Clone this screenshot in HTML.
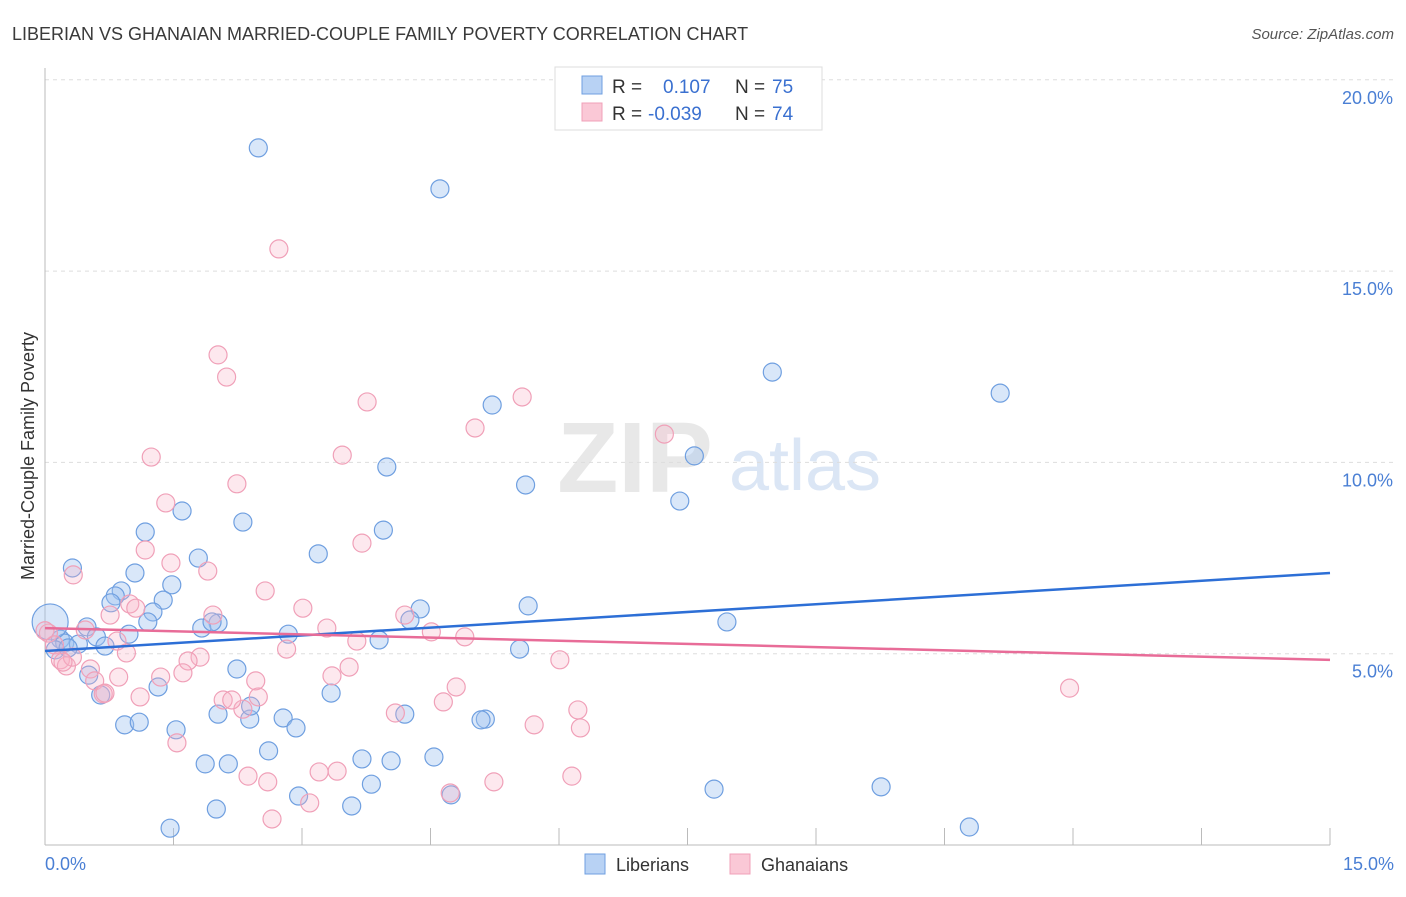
<!DOCTYPE html>
<html><head><meta charset="utf-8"><style>
body{margin:0;background:#fff;font-family:"Liberation Sans",sans-serif;}
svg text{font-family:"Liberation Sans",sans-serif;}
</style></head><body>
<svg id="chart" width="1406" height="892" xmlns="http://www.w3.org/2000/svg">
<text x="12" y="40" font-size="18" fill="#3a3a3a">LIBERIAN VS GHANAIAN MARRIED-COUPLE FAMILY POVERTY CORRELATION CHART</text>
<text x="1394" y="39" font-size="15" fill="#555" text-anchor="end" font-style="italic">Source: ZipAtlas.com</text>
<g><text x="635" y="492" font-size="100" fill="#e8e8e8" text-anchor="middle" font-family="Liberation Serif" font-weight="bold">ZIP</text><text x="805" y="490" font-size="72" fill="#dbe6f5" text-anchor="middle">atlas</text></g>
<g id="grid"></g><g id="axes"></g><g id="pts"></g><g id="trend"></g>
<text transform="translate(34,456) rotate(-90)" font-size="18" fill="#333" text-anchor="middle">Married-Couple Family Poverty</text>
<text x="45" y="870" font-size="18" fill="#4a7fd4">0.0%</text>
<text x="1394" y="870" font-size="18" fill="#4a7fd4" text-anchor="end">15.0%</text>
<g>
<rect x="555" y="67" width="267" height="63" fill="#fff" stroke="#ddd"/>
<rect x="582" y="76" width="20" height="18" fill="#b8d2f4" stroke="#6f9fe0"/>
<rect x="582" y="103" width="20" height="18" fill="#fac8d6" stroke="#f0a0b8"/>
<text x="612" y="93" font-size="19" fill="#333">R = </text><text x="663" y="93" font-size="19" fill="#3a70d0">0.107</text>
<text x="735" y="93" font-size="19" fill="#333">N = </text><text x="772" y="93" font-size="19" fill="#3a70d0">75</text>
<text x="612" y="120" font-size="19" fill="#333">R = </text><text x="648" y="120" font-size="19" fill="#3a70d0">-0.039</text>
<text x="735" y="120" font-size="19" fill="#333">N = </text><text x="772" y="120" font-size="19" fill="#3a70d0">74</text>
</g>
<g><rect x="585" y="854" width="20" height="20" fill="#b8d2f4" stroke="#6f9fe0"/><text x="616" y="871" font-size="18" fill="#333">Liberians</text></g>
<g><rect x="730" y="854" width="20" height="20" fill="#fac8d6" stroke="#f0a0b8"/><text x="761" y="871" font-size="18" fill="#333">Ghanaians</text></g>
</svg>
<script>
const yTicks=[5,10,15,20];
const yTickLabels=["5.0%","10.0%","15.0%","20.0%"];
const xTicks=[1.5,3,4.5,6,7.5,9,10.5,12,13.5,15];
const libX=[2.49,4.61,8.49,11.15,5.22,3.99,7.58,5.61,7.41,1.60,2.31,3.95,1.17,3.19,1.79,0.32,1.05,1.48,0.89,0.82,0.77,1.38,1.26,4.38,5.64,1.20,7.96,4.26,2.02,1.83,0.49,0.98,0.60,2.84,3.90,0.18,0.23,0.39,0.70,0.06,0.12,5.54,2.24,0.51,1.32,0.65,3.34,2.02,2.39,4.20,5.14,5.09,0.93,1.10,1.53,2.78,2.93,2.61,3.70,4.04,4.54,1.87,2.14,3.81,2.96,3.58,2.00,1.46,7.81,9.76,10.79,4.74,2.40,1.95,0.27];
const libY=[18.22,17.15,12.36,11.81,11.50,9.88,10.17,9.41,8.99,8.73,8.44,8.23,8.18,7.61,7.50,7.24,7.11,6.80,6.64,6.51,6.33,6.40,6.09,6.17,6.25,5.83,5.83,5.88,5.80,5.67,5.70,5.51,5.44,5.51,5.36,5.38,5.28,5.25,5.20,5.83,5.10,5.12,4.60,4.44,4.13,3.92,3.97,3.42,3.29,3.42,3.29,3.27,3.14,3.21,3.01,3.32,3.06,2.46,2.25,2.20,2.30,2.12,2.12,1.59,1.28,1.02,0.94,0.44,1.46,1.52,0.47,1.31,3.63,5.83,5.15];
const ghaX=[2.73,2.02,2.12,3.76,5.57,5.02,7.23,1.24,3.47,2.24,1.41,3.70,1.17,1.47,0.33,1.90,2.57,0.99,1.06,0.76,3.01,1.96,4.20,4.51,4.90,3.29,0.47,0.84,2.82,3.64,0.04,0.11,0.18,0.25,0.32,0.95,1.81,1.67,3.55,6.01,0.53,0.21,1.35,1.61,0.86,2.46,0.58,0.68,3.35,4.80,11.96,2.08,2.49,1.11,2.31,4.09,4.65,5.71,6.22,6.25,1.54,3.20,3.41,2.37,5.24,6.15,2.60,3.09,4.73,2.65,0.70,2.18,0.00];
const ghaY=[15.58,12.81,12.23,11.58,11.71,10.90,10.74,10.14,10.19,9.44,8.94,7.89,7.71,7.37,7.06,7.16,6.64,6.30,6.19,6.01,6.19,6.01,6.01,5.57,5.44,5.67,5.62,5.33,5.12,5.33,5.54,5.23,4.84,4.68,4.91,5.02,4.91,4.81,4.65,4.84,4.60,4.78,4.39,4.50,4.39,4.29,4.29,3.95,4.42,4.13,4.10,3.79,3.87,3.87,3.55,3.45,3.74,3.14,3.53,3.06,2.67,1.91,1.93,1.80,1.65,1.80,1.65,1.10,1.36,0.68,3.97,3.79,5.60];
const libTrend=[5.07,7.11];
const ghaTrend=[5.67,4.84];
const NS="http://www.w3.org/2000/svg";
const X=v=>45+v/15*1285, Y=v=>845-v/5*191.3;
function mk(tag,attrs,parent){const e=document.createElementNS(NS,tag);for(const k in attrs)e.setAttribute(k,attrs[k]);parent.appendChild(e);return e;}
const grid=document.getElementById('grid'),axes=document.getElementById('axes'),pts=document.getElementById('pts'),tr=document.getElementById('trend');
yTicks.forEach((t,i)=>{
 const l=mk('line',{x1:45,x2:1393,y1:Y(t),y2:Y(t),stroke:'#ddd','stroke-dasharray':'4,4'},grid);
 
 
 const tx=mk('text',{x:1393,y:Y(t)+24,'font-size':18,fill:'#4a7fd4','text-anchor':'end'},grid);
 tx.textContent=yTickLabels[i];
 
 
});
const ya=mk('line',{x1:45,x2:45,y1:68,y2:845,stroke:'#bbb'},axes);


const xa=mk('line',{x1:45,x2:1330,y1:845,y2:845,stroke:'#bbb'},axes);


xTicks.forEach(t=>{
 const l=mk('line',{x1:X(t),x2:X(t),y1:828,y2:845,stroke:'#bbb'},axes);
 
 
});
function series(xs,ys,fill,stroke,name,bigIdx){
 xs.forEach((x,i)=>{
  const c=mk('circle',{cx:X(x),cy:Y(ys[i]),r:(i===bigIdx?18:9),fill:fill,stroke:stroke,'stroke-width':1.2},pts);
  
  
 });
}
series(libX,libY,'rgba(160,196,240,0.4)','#6f9fe0','liberian-point',39);
series(ghaX,ghaY,'rgba(248,180,200,0.3)','#f0a0b8','ghanaian-point',-1);
const lt=mk('line',{x1:X(0),x2:X(15),y1:Y(libTrend[0]),y2:Y(libTrend[1]),stroke:'#2d6fd6','stroke-width':2.5},tr);


const gt=mk('line',{x1:X(0),x2:X(15),y1:Y(ghaTrend[0]),y2:Y(ghaTrend[1]),stroke:'#e86c98','stroke-width':2.5},tr);


</script>
</body></html>
